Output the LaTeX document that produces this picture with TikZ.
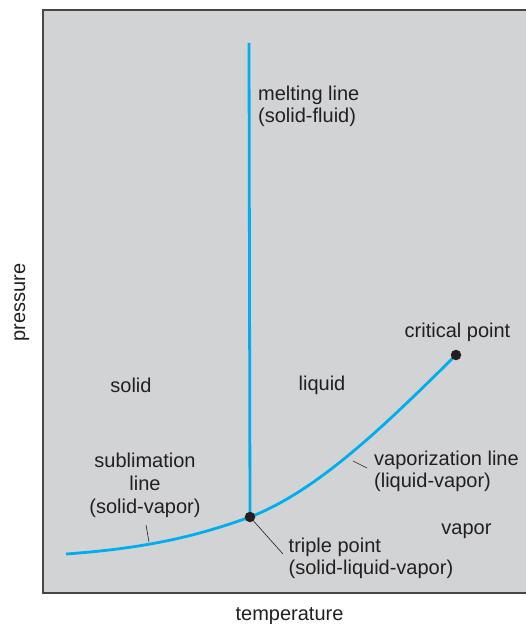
\documentclass[tikz,border=0pt]{standalone}
\usepackage{fontspec}
\setmainfont{Liberation Sans}
\definecolor{panel}{RGB}{209,211,212}
\definecolor{frame}{RGB}{70,70,70}
\definecolor{curve}{RGB}{0,174,239}
\definecolor{ink}{RGB}{35,31,32}
\begin{document}
\begin{tikzpicture}[x=1pt,y=-1pt,
  lbl/.style={font=\fontsize{20}{22}\selectfont, text=ink, inner sep=0pt, align=center},
  lbll/.style={lbl, align=left},
  phase/.style={draw=curve, line width=2.8pt},
  leader/.style={draw=ink, line width=0.6pt},
  dot/.style={circle, fill=ink, minimum size=10.5pt, inner sep=0pt}]
\useasboundingbox (0,0) rectangle (526,624);
\fill[panel] (43,10) rectangle (527,593);
\draw[frame, line width=1.6pt] (527,10) -- (43,10) -- (43,593) -- (527,593);
% key points
\coordinate (mtop) at (249,43);
\coordinate (slo) at (66,554);
\coordinate (tpc) at (250,517);
\coordinate (cpc) at (456,355);
% curves
\draw[phase] (mtop) -- (tpc);
\draw[phase] (slo) .. controls (150,548) and (200,535) .. (tpc);
\draw[phase] (tpc) .. controls (320,490) and (390,420) .. (cpc);
\node[dot] (tp) at (tpc) {};
\node[dot] (cp) at (cpc) {};
% labels
\node[lbll, anchor=north west] (melt) at (258,85.7) {melting line\\(solid-fluid)};
\node[lbl, anchor=base] (crit) at (457.5,337) {critical point};
\node[lbl] (solid) at (131,385) {solid};
\node[lbl] (liquid) at (322,385) {liquid};
\node[lbl, anchor=north, font=\fontsize{20}{23}\selectfont] (subl) at (145,452.7) {sublimation\\line\\(solid-vapor)};
\node[lbll, anchor=north west] (vap) at (374,450.7) {vaporization line\\(liquid-vapor)};
\node[lbl, anchor=base] (vapor) at (466.5,534) {vapor};
\node[lbll, anchor=north west] (trip) at (288.5,537.7) {triple point\\(solid-liquid-vapor)};
\node[lbl, anchor=base] (temp) at (289.5,620) {temperature};
\node[lbl, rotate=90, anchor=base] (pres) at (25,302.5) {pressure};
% leaders
\coordinate (sl1) at (146,525); \coordinate (sl2) at (149,542);
\draw[leader] (sl1) -- (sl2);
\coordinate (vl1) at (353,461); \coordinate (vl2) at (367,468);
\draw[leader] (vl1) -- (vl2);
\coordinate (tl2) at (283,554);
\draw[leader] (tp) -- (tl2);
\end{tikzpicture}
\end{document}
